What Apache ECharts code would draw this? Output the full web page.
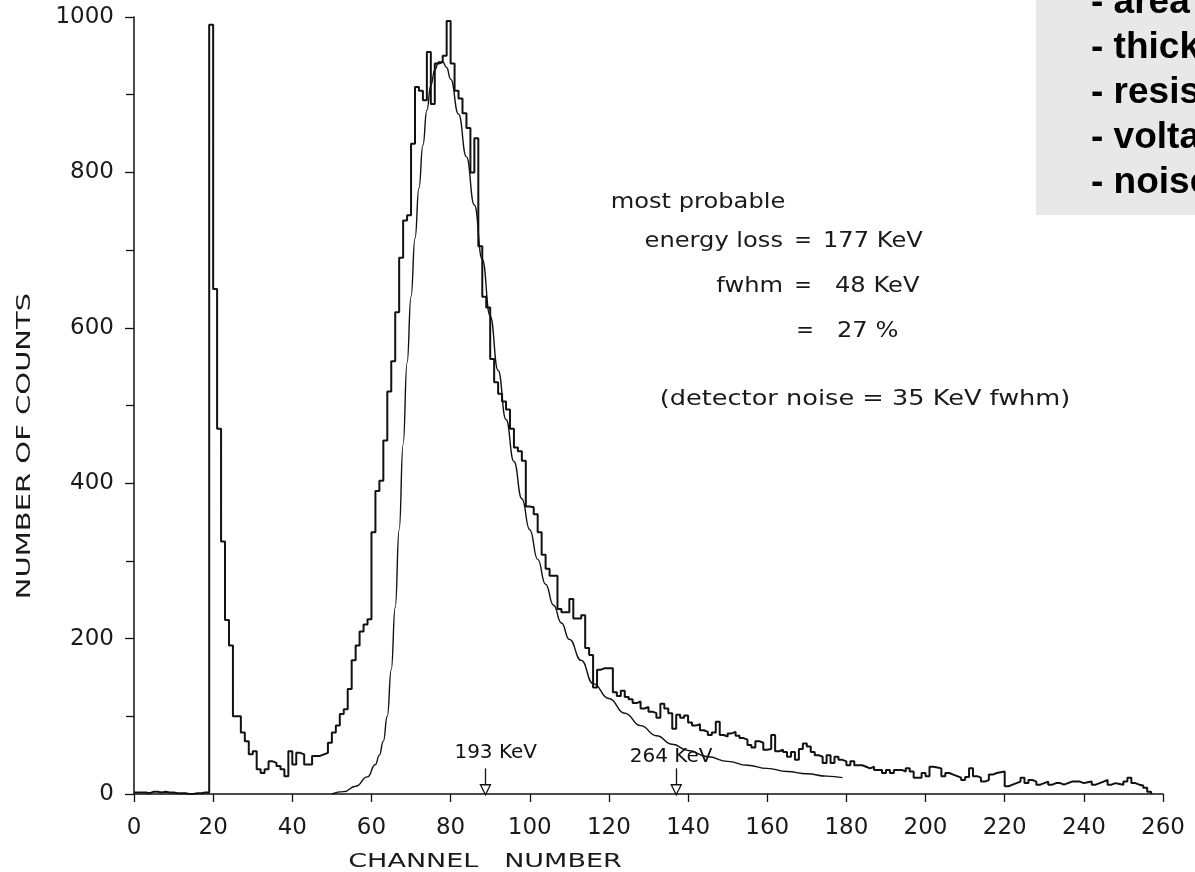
<!DOCTYPE html>
<html>
<head>
<meta charset="utf-8">
<script src="https://cdn.jsdelivr.net/npm/echarts@6/dist/echarts.min.js"></script>
<style>
html,body{margin:0;padding:0;background:#fff;}
#chart{width:1195px;height:872px;}
</style>
</head>
<body>
<div id="chart"></div>
<script>
// counts per channel (index = channel number 0..257)
const channelCounts = [
  2, 2, 2, 1, 3, 3, 2, 3, 2, 2, 1, 1, 1, 0, 0, 1, 1, 2, 2, 990,
  650, 470, 325, 224, 191, 100, 100, 79, 68, 51, 55, 32, 27, 32, 42, 40, 36, 32, 23, 55,
  38, 53, 51, 38, 38, 49, 49, 51, 53, 66, 79, 88, 103, 109, 135, 172, 191, 209, 218, 225,
  337, 390, 403, 455, 518, 557, 620, 690, 738, 745, 837, 910, 905, 893, 955, 888, 940, 942, 950, 995,
  940, 905, 895, 876, 857, 800, 844, 705, 640, 626, 560, 530, 515, 505, 495, 470, 446, 441, 429, 370,
  369, 360, 337, 308, 290, 281, 281, 238, 234, 234, 251, 226, 226, 230, 188, 179, 137, 160, 162, 162,
  162, 131, 126, 133, 125, 122, 117, 119, 110, 112, 106, 104, 98, 116, 110, 104, 84, 102, 98, 101,
  92, 88, 90, 82, 80, 76, 79, 93, 76, 74, 78, 80, 75, 72, 70, 63, 60, 68, 66, 57,
  58, 76, 55, 57, 54, 48, 54, 44, 58, 65, 61, 54, 50, 48, 40, 50, 40, 48, 44, 42,
  37, 42, 37, 37, 35, 33, 35, 31, 31, 27, 31, 27, 31, 31, 29, 33, 29, 21, 21, 27,
  23, 35, 34, 33, 23, 27, 25, 23, 21, 18, 22, 33, 23, 21, 16, 18, 25, 27, 28, 29,
  10, 12, 14, 16, 21, 14, 18, 16, 12, 14, 16, 12, 14, 14, 12, 14, 16, 16, 16, 14,
  15, 16, 12, 14, 16, 18, 12, 14, 13, 12, 16, 21, 14, 12, 11, 8, 3, 0
];

// fitted (smooth) curve, read at selected channels
const fitChannels = [50, 53, 56, 59, 61, 62, 63, 64, 65, 66, 67, 68, 69, 70, 71, 72, 73, 74, 75, 76, 77, 78, 79, 80, 82, 84, 86, 88, 90, 92, 94, 96, 98, 100, 102, 104, 106, 108, 110, 113, 116, 120, 124, 128, 132, 136, 140, 145, 150, 155, 160, 165, 170, 175, 179];
const fitCounts   = [0, 3, 10, 22, 38, 50, 68, 100, 160, 240, 340, 450, 555, 640, 715, 780, 835, 880, 912, 932, 942, 942, 935, 920, 875, 820, 758, 688, 615, 545, 482, 428, 380, 340, 302, 270, 243, 220, 199, 172, 142, 123, 104, 88, 75, 64, 56, 48, 42, 37, 33, 29, 26, 23, 21];

// energy markers
const markerChannels = [88.8, 137];
const markerLabels = ['193 KeV', '264 KeV'];
const markerLabelChannels = [91.4, 135.7];
const markerLabelCounts = [52.7, 47.6];
const arrowTop = 33, arrowBottom = 11, arrowTip = 5.5;

// axis ticks
const xTickLabels = [0, 20, 40, 60, 80, 100, 120, 140, 160, 180, 200, 220, 240, 260];
const yTickLabels = [0, 200, 400, 600, 800, 1000];

const histogram = channelCounts.map((v, ch) => [ch, v]);
const fit = fitChannels.map((c, i) => [c, fitCounts[i]]);

const FONT = 'DejaVu Sans';
const INK = '#111';
const TXT = '#1a1a1a';

function txt(x, y, text, size, align, extra) {
  return Object.assign({
    type: 'text', x: x, y: y, silent: true,
    style: {
      text: text, fontSize: size, fontFamily: FONT, fill: TXT,
      align: align, verticalAlign: 'middle',
      textAlign: align, textVerticalAlign: 'middle'
    }
  }, extra || {});
}

const boxLines = ['- area', '- thick', '- resis', '- volta', '- noise'];
const boxGraphics = [{
  type: 'rect', silent: true, z: 10,
  shape: { x: 1036, y: 0, width: 170, height: 215 },
  style: { fill: '#e8e8e8' }
}].concat(boxLines.map((t, i) => ({
  type: 'text', silent: true, z: 11, x: 1091, y: 3 + 45 * i,
  style: {
    text: t, fontSize: 37, fontWeight: 'bold', fontFamily: 'Liberation Sans, Arial',
    fill: '#000', align: 'left', verticalAlign: 'middle',
    textAlign: 'left', textVerticalAlign: 'middle'
  }
})));

const wide = { scaleX: 1.15 };

const chart = echarts.init(document.getElementById('chart'), null, { renderer: 'canvas' });
chart.setOption({
  animation: false,
  backgroundColor: '#fff',
  grid: { left: 134, right: 32, top: 17, bottom: 78 },
  xAxis: {
    type: 'value', min: 0, max: 260, interval: 20,
    axisLine: { show: true, onZero: false, lineStyle: { color: INK, width: 1.5 } },
    axisTick: { show: true, length: 8, lineStyle: { color: INK, width: 1.3 } },
    axisLabel: {
      margin: 23, color: TXT, fontSize: 23, fontFamily: FONT,
      formatter: v => (xTickLabels.indexOf(v) >= 0 ? String(v) : '')
    },
    splitLine: { show: false }
  },
  yAxis: {
    type: 'value', min: 0, max: 1000, interval: 200,
    axisLine: { show: true, lineStyle: { color: INK, width: 1.5 } },
    axisTick: { show: true, length: 9, lineStyle: { color: INK, width: 1.3 } },
    minorTick: { show: true, splitNumber: 2, length: 8, lineStyle: { color: INK, width: 1.3 } },
    axisLabel: {
      margin: 20, color: TXT, fontSize: 23, fontFamily: FONT,
      formatter: v => (yTickLabels.indexOf(v) >= 0 ? String(v) : '')
    },
    splitLine: { show: false },
    minorSplitLine: { show: false }
  },
  series: [
    {
      name: 'counts', type: 'line', step: 'end', data: histogram,
      symbol: 'none', showSymbol: false, silent: true,
      lineStyle: { color: INK, width: 2 }, z: 3
    },
    {
      name: 'fit', type: 'line', data: fit, smooth: 0.5, smoothMonotone: 'x',
      symbol: 'none', showSymbol: false, silent: true,
      lineStyle: { color: INK, width: 1.4 }, z: 4
    },
    {
      name: 'markers', type: 'scatter', silent: true,
      data: markerChannels.map(c => [c, arrowTip]),
      symbol: 'triangle', symbolRotate: 180, symbolSize: [10, 10],
      itemStyle: { color: '#fff', borderColor: INK, borderWidth: 1.3, opacity: 1 },
      markLine: {
        silent: true, symbol: ['none', 'none'], label: { show: false },
        lineStyle: { color: INK, width: 1.3, type: 'solid' },
        emphasis: { disabled: true },
        data: markerChannels.map(c => [{ coord: [c, arrowTop] }, { coord: [c, arrowBottom] }])
      },
      z: 5
    },
    {
      name: 'marker labels', type: 'scatter', silent: true,
      data: markerLabels.map((t, i) => ({ name: t, value: [markerLabelChannels[i], markerLabelCounts[i]] })),
      symbolSize: 1, itemStyle: { color: 'rgba(0,0,0,0)' },
      label: {
        show: true, position: 'inside', formatter: '{b}', color: '#111', opacity: 1,
        textBorderWidth: 0, fontSize: 20, fontFamily: FONT
      },
      z: 6
    }
  ],
  graphic: [
    txt(698, 203, 'most probable', 21, 'center', wide),
    txt(783, 242, 'energy loss', 21, 'right', wide),
    txt(803, 242, '=', 21, 'center'),
    txt(823, 242, '177 KeV', 21, 'left', wide),
    txt(783, 287, 'fwhm', 21, 'right', wide),
    txt(803, 287, '=', 21, 'center'),
    txt(835, 287, '48 KeV', 21, 'left', wide),
    txt(805, 332, '=', 21, 'center'),
    txt(837, 332, '27 %', 21, 'left', wide),
    txt(865, 400, '(detector noise = 35 KeV fwhm)', 21, 'center', { scaleX: 1.22 }),
    txt(485, 862, 'CHANNEL   NUMBER', 20, 'center', { scaleX: 1.35 }),
    txt(25, 446, 'NUMBER OF COUNTS', 20, 'center', { rotation: Math.PI / 2, scaleX: 1.45 })
  ].concat(boxGraphics)
});
</script>
</body>
</html>
